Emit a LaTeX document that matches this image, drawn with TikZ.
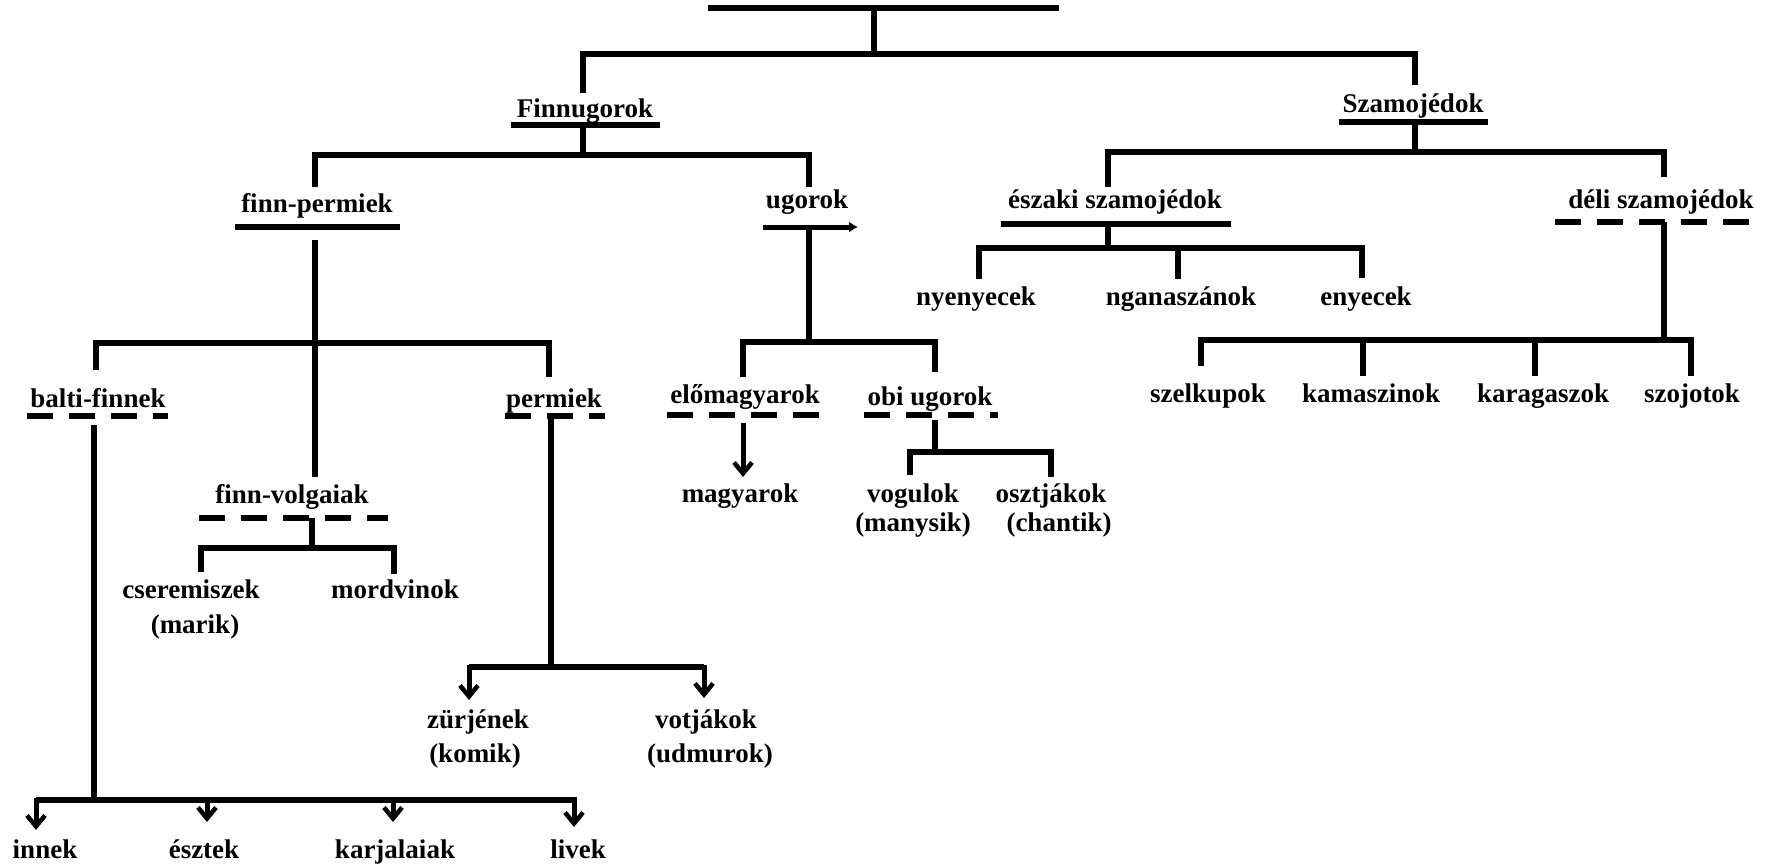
\documentclass[tikz,border=0pt]{standalone}
\usepackage{fontspec}
\setmainfont{Liberation Serif}
\usetikzlibrary{arrows.meta}
\begin{document}
\begin{tikzpicture}[x=1pt,y=-1pt,
  lbl/.style={font=\fontsize{27}{30}\selectfont\bfseries, inner sep=0pt, anchor=base},
  ln/.style={line width=5.5pt, line join=miter},
  ul/.style={line width=5.5pt},
  dul/.style={line width=5.5pt, dash pattern=on 26pt off 16pt},
  arr/.style={line width=5pt, -{Straight Barb[length=11pt,width=18pt,line width=4.5pt]}}]
\useasboundingbox (0,0) rectangle (1769,863);
\fill[white] (0,0) rectangle (1769,863);
% labels
\node[lbl] (fin) at (585,117) {Finnugorok};
\node[lbl] (sza) at (1413,112) {Szamojédok};
\node[lbl] (fp) at (317,212) {finn-permiek};
\node[lbl] (ug) at (807,208) {ugorok};
\node[lbl] (esz) at (1115,208) {északi szamojédok};
\node[lbl] (del) at (1661,208) {déli szamojédok};
\node[lbl] (nye) at (976,305) {nyenyecek};
\node[lbl] (nga) at (1181,305) {nganaszánok};
\node[lbl] (eny) at (1366,305) {enyecek};
\node[lbl] (bal) at (98,407) {balti-finnek};
\node[lbl] (per) at (554,407) {permiek};
\node[lbl] (elo) at (745,403) {előmagyarok};
\node[lbl] (obi) at (930,405) {obi ugorok};
\node[lbl] (sze) at (1208,402) {szelkupok};
\node[lbl] (kam) at (1371,402) {kamaszinok};
\node[lbl] (kar) at (1543,402) {karagaszok};
\node[lbl] (szo) at (1692,402) {szojotok};
\node[lbl] (fv) at (292,503) {finn-volgaiak};
\node[lbl] (mag) at (740,502) {magyarok};
\node[lbl] (vog) at (913,502) {vogulok};
\node[lbl] (vog2) at (913,531) {(manysik)};
\node[lbl] (osz) at (1051,502) {osztjákok};
\node[lbl] (osz2) at (1059,531) {(chantik)};
\node[lbl] (cse) at (191,598) {cseremiszek};
\node[lbl] (cse2) at (195,633) {(marik)};
\node[lbl] (mor) at (395,598) {mordvinok};
\node[lbl] (zur) at (478,728) {zürjének};
\node[lbl] (zur2) at (475,762) {(komik)};
\node[lbl] (vot) at (706,728) {votjákok};
\node[lbl] (vot2) at (710,762) {(udmurok)};
\node[lbl] (inn) at (45,858) {innek};
\node[lbl] (esz2) at (204,858) {észtek};
\node[lbl] (kja) at (395,858) {karjalaiak};
\node[lbl] (liv) at (578,858) {livek};
% top
\draw[ul] (708,8) -- (1059,8);
\draw[ln] (874,8) -- (874,54);
\draw[ln] (583,93) -- (583,54) -- (1415,54) -- (1415,85);
% Finnugorok
\draw[ul] (511,125) -- (660,125);
\draw[ln] (583,125) -- (583,155);
\draw[ln] (315,187) -- (315,155) -- (809,155) -- (809,187);
% finn-permiek
\draw[ul] (235,227) -- (400,227);
\draw[ln] (315,240) -- (315,477);
\draw[ln] (96,370) -- (96,343) -- (549,343) -- (549,377);
% balti-finnek
\draw[dul] (27,416) -- (168,416);
\draw[ln] (94,425) -- (94,800);
\draw[ln] (36,800) -- (577,800);
\draw[arr] (36,798) -- (36,830);
\draw[arr] (207,798) -- (207,822);
\draw[arr] (393,798) -- (393,822);
\draw[arr] (574,798) -- (574,827);
% permiek
\draw[dul] (505,416) -- (605,416);
\draw[ln] (551,417) -- (551,667);
\draw[ln] (469,667) -- (704,667);
\draw[arr] (469,665) -- (469,700);
\draw[arr] (704,665) -- (704,698);
% finn-volgaiak
\draw[dul] (199,518) -- (388,518);
\draw[ln] (312,518) -- (312,548);
\draw[ln] (201,572) -- (201,548) -- (394,548) -- (394,574);
% ugorok
\draw[line width=5pt, -{Latex[length=9pt,width=11pt]}] (763,227) -- (858,227);
\draw[ln] (809,227) -- (809,342);
\draw[ln] (743,377) -- (743,342) -- (935,342) -- (935,372);
% elomagyarok
\draw[dul] (667,415) -- (822,415);
\draw[arr] (743,423) -- (743,477);
% obi ugorok
\draw[dul] (864,415) -- (998,415);
\draw[ln] (935,420) -- (935,452);
\draw[ln] (910,475) -- (910,452) -- (1051,452) -- (1051,477);
% Szamojedok
\draw[ul] (1339,122) -- (1488,122);
\draw[ln] (1415,122) -- (1415,152);
\draw[ln] (1108,187) -- (1108,152) -- (1664,152) -- (1664,177);
% eszaki
\draw[ul] (1001,224) -- (1231,224);
\draw[ln] (1108,224) -- (1108,248);
\draw[ln] (979,279) -- (979,248) -- (1362,248) -- (1362,278);
\draw[ln] (1178,248) -- (1178,279);
% deli
\draw[dul] (1555,222) -- (1764,222);
\draw[ln] (1664,222) -- (1664,340);
\draw[ln] (1201,366) -- (1201,340) -- (1691,340) -- (1691,376);
\draw[ln] (1363,340) -- (1363,376);
\draw[ln] (1535,340) -- (1535,376);
\end{tikzpicture}
\end{document}
